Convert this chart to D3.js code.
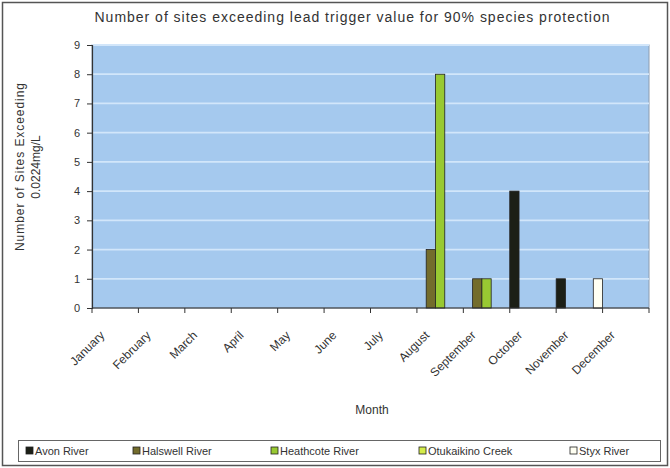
<!DOCTYPE html>
<html>
<head>
<meta charset="utf-8">
<script src="https://cdn.jsdelivr.net/npm/d3@7"></script>
<style>
  html, body { margin: 0; padding: 0; background: #fff; }
  svg { display: block; font-family: "Liberation Sans", Arial, sans-serif; }
</style>
</head>
<body>
<script>
// Months on the category axis
const months = ["January", "February", "March", "April", "May", "June",
                "July", "August", "September", "October", "November", "December"];

// Sites exceeding the trigger value, per river, per month
const seriesNames = ["Avon River", "Halswell River", "Heathcote River", "Otukaikino Creek", "Styx River"];
const avon       = [0, 0, 0, 0, 0, 0, 0, 0, 0, 4, 1, 0];
const halswell   = [0, 0, 0, 0, 0, 0, 0, 2, 1, 0, 0, 0];
const heathcote  = [0, 0, 0, 0, 0, 0, 0, 8, 1, 0, 0, 0];
const otukaikino = [0, 0, 0, 0, 0, 0, 0, 0, 0, 0, 0, 0];
const styx       = [0, 0, 0, 0, 0, 0, 0, 0, 0, 0, 1, 0];
const seriesColors = ["#1c1f16", "#736c2c", "#98c932", "#d4ec4a", "#fffff2"];

const yTicks = [0, 1, 2, 3, 4, 5, 6, 7, 8, 9];

const seriesValues = [avon, halswell, heathcote, otukaikino, styx];

const W = 670, H = 468;
const plot = { left: 92, right: 649, top: 45, bottom: 308 };

const svg = d3.select("body").append("svg")
  .attr("width", W).attr("height", H);

// chart frame
svg.append("rect")
  .attr("x", 2.5).attr("y", 2.5).attr("width", W - 5).attr("height", H - 5)
  .attr("fill", "#fff").attr("stroke", "#555").attr("stroke-width", 1.5);

const x = d3.scaleBand().domain(months).range([plot.left, plot.right]).padding(0);
const x1 = d3.scaleBand().domain(seriesNames).range([0, x.bandwidth()]).padding(0);
const y = d3.scaleLinear().domain([0, 9]).range([plot.bottom, plot.top]);

// plot area
svg.append("rect")
  .attr("x", plot.left).attr("y", plot.top)
  .attr("width", plot.right - plot.left).attr("height", plot.bottom - plot.top)
  .attr("fill", "#a5c9ee").attr("stroke", "#8c9cb0").attr("stroke-width", 1);

// horizontal gridlines
svg.append("g").selectAll("line")
  .data(yTicks.filter(d => d > 0))
  .join("line")
  .attr("x1", plot.left).attr("x2", plot.right)
  .attr("y1", d => y(d)).attr("y2", d => y(d))
  .attr("stroke", "#d2e6fa").attr("stroke-width", 1.8);

// bars
const rows = [];
months.forEach((m, i) => {
  seriesNames.forEach((s, k) => {
    const v = seriesValues[k][i];
    if (v > 0) rows.push({ month: m, series: s, value: v, color: seriesColors[k] });
  });
});

svg.append("g").selectAll("rect")
  .data(rows)
  .join("rect")
  .attr("x", d => x(d.month) + x1(d.series))
  .attr("y", d => y(d.value))
  .attr("width", x1.bandwidth())
  .attr("height", d => y(0) - y(d.value))
  .attr("fill", d => d.color)
  .attr("stroke", "#222")
  .attr("stroke-width", 0.8);

// y axis
const yAxis = d3.axisLeft(y).tickValues(yTicks).tickSize(5).tickPadding(7).tickFormat(d3.format("d"));
const gy = svg.append("g").attr("transform", `translate(${plot.left},0)`).call(yAxis);
gy.select(".domain").attr("stroke", "#333").attr("stroke-width", 1.2);
gy.selectAll(".tick line").attr("stroke", "#333");
gy.selectAll(".tick text").attr("font-size", 11).attr("fill", "#333");

// x axis: baseline, boundary ticks, rotated month names
const gx = svg.append("g");
gx.append("line")
  .attr("x1", plot.left).attr("x2", plot.right)
  .attr("y1", plot.bottom).attr("y2", plot.bottom)
  .attr("stroke", "#333").attr("stroke-width", 1.2);
const boundaries = months.map(m => x(m)).concat([x(months[months.length - 1]) + x.bandwidth()]);
gx.selectAll("line.tk")
  .data(boundaries)
  .join("line")
  .attr("class", "tk")
  .attr("x1", d => d).attr("x2", d => d)
  .attr("y1", plot.bottom).attr("y2", plot.bottom + 5)
  .attr("stroke", "#333");
gx.selectAll("text")
  .data(months)
  .join("text")
  .attr("transform", d => `translate(${x(d) + x.bandwidth() / 2 - 10},${plot.bottom + 28}) rotate(-45)`)
  .attr("text-anchor", "end")
  .attr("font-size", 12)
  .attr("fill", "#333")
  .text(d => d);

// titles
svg.append("text")
  .attr("x", 352).attr("y", 22)
  .attr("text-anchor", "middle")
  .attr("font-size", 14)
  .attr("textLength", 515)
  .attr("lengthAdjust", "spacing")
  .attr("fill", "#333")
  .text("Number of sites exceeding lead trigger value for 90% species protection");

svg.append("text")
  .attr("x", 372).attr("y", 414)
  .attr("text-anchor", "middle")
  .attr("font-size", 12)
  .attr("fill", "#333")
  .text("Month");

const yt = svg.append("text")
  .attr("transform", "translate(24,167) rotate(-90)")
  .attr("text-anchor", "middle")
  .attr("font-size", 12)
  .attr("fill", "#333");
yt.append("tspan").attr("x", 0).attr("dy", 0)
  .attr("textLength", 168).attr("lengthAdjust", "spacing")
  .text("Number of Sites Exceeding");
yt.append("tspan").attr("x", 0).attr("dy", 16).text("0.0224mg/L");

// legend
const legend = svg.append("g");
legend.append("rect")
  .attr("x", 18.5).attr("y", 440.5).attr("width", 642).attr("height", 21)
  .attr("fill", "#fff").attr("stroke", "#666").attr("stroke-width", 1);
const legendX = [26, 133, 271, 419, 570];
const items = legend.selectAll("g")
  .data(seriesNames)
  .join("g")
  .attr("transform", (d, i) => `translate(${legendX[i]},451)`);
items.append("rect")
  .attr("x", 0).attr("y", -4).attr("width", 7).attr("height", 7)
  .attr("fill", (d, i) => seriesColors[i]).attr("stroke", "#222").attr("stroke-width", 0.8);
items.append("text")
  .attr("x", 9).attr("y", 4)
  .attr("font-size", 11)
  .attr("fill", "#333")
  .text(d => d);
</script>
</body>
</html>
